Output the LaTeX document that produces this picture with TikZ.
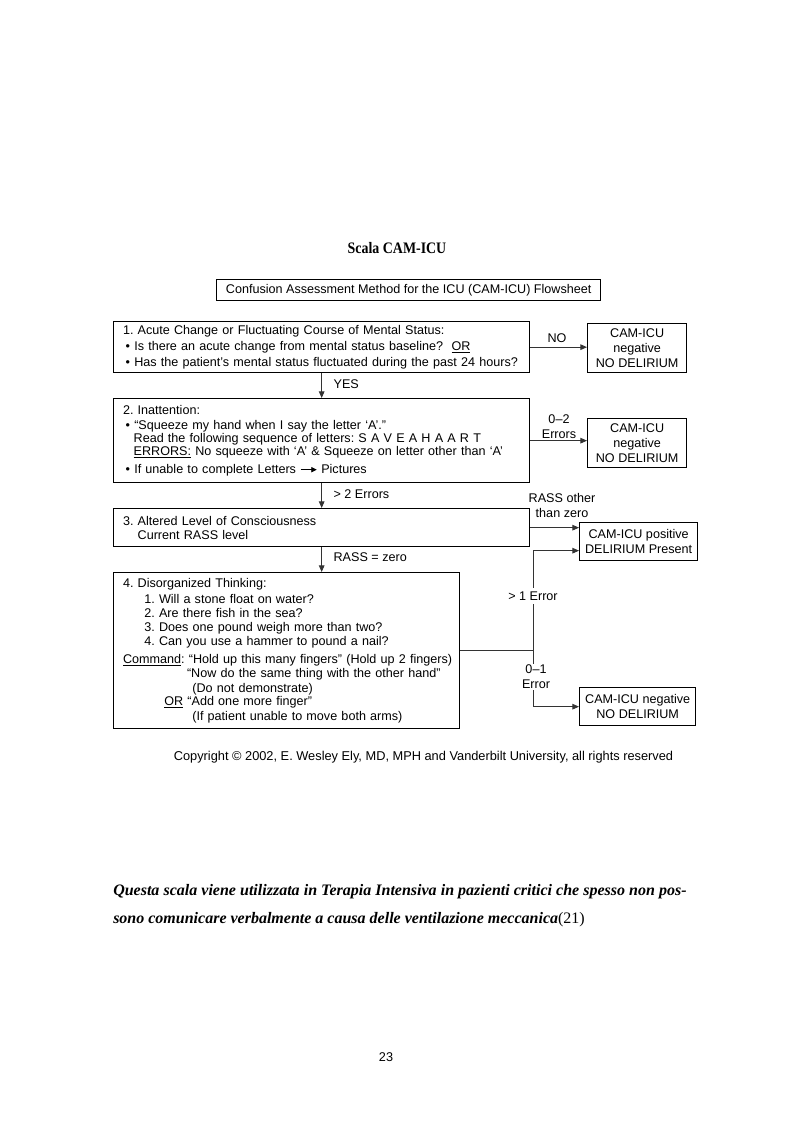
\documentclass[tikz,border=0pt]{standalone}
\usepackage{fontspec}
\usepackage{graphicx}
\setmainfont{Liberation Serif}
\newfontfamily\arialf{Liberation Sans}
\usetikzlibrary{arrows.meta}
\frenchspacing
\newcommand{\boxfont}{\arialf\fontsize{9.45}{10.5}\selectfont}
\newcommand{\resfont}{\arialf\fontsize{9.45}{11.25}\selectfont}
\newcommand{\smallarrow}{\tikz[baseline=-2.8pt]\draw[line width=0.6pt,-{Triangle[length=4pt,width=4pt]}] (0pt,0pt) -- (12pt,0pt);}
\begin{document}
\begin{tikzpicture}[x=0.75pt,y=-0.75pt,
  box/.style={draw, line width=1pt, rectangle, inner xsep=7pt, inner ysep=0pt, align=left, anchor=north west, font=\boxfont},
  res/.style={draw, line width=1pt, rectangle, align=center, anchor=north west, font=\resfont, inner sep=1pt},
  conn/.style={draw=black!80, line width=0.7pt},
  arr/.style={conn, -{Triangle[length=5pt,width=4.2pt]}},
  lbl/.style={font=\resfont, align=center, inner sep=1pt}]
\useasboundingbox[fill=white] (0,0) rectangle (793,1123);

\node (title) [font=\bfseries\fontsize{12}{14}\selectfont, anchor=base] at (397,253) {\scalebox{0.87}[1]{Scala CAM-ICU}};

\node (hdr) [draw, line width=1pt, anchor=north west, minimum width=288pt, minimum height=15.75pt, inner sep=0pt, font=\boxfont] at (216,279) {Confusion Assessment Method for the ICU (CAM-ICU) Flowsheet};

\node (b1) [box, text width=298pt, minimum height=38.25pt] at (113,321) {1. Acute Change or Fluctuating Course of Mental Status:\\[1.5pt]
\hspace*{2pt}\textbullet\ Is there an acute change from mental status baseline?\ \ \underline{OR}\\[1.5pt]
\hspace*{2pt}\textbullet\ Has the patient’s mental status fluctuated during the past 24 hours?};

\node (b2) [box, text width=298pt, minimum height=63pt] at (113,398) {2. Inattention:\\[0.75pt]
\hspace*{2pt}\textbullet\ “Squeeze my hand when I say the letter ‘A’.”\\[-0.75pt]
\hspace*{8pt}Read the following sequence of letters: S A V E A H A A R T\\[-0.75pt]
\hspace*{8pt}\underline{ERRORS:} No squeeze with ‘A’ \& Squeeze on letter other than ‘A’\\[3pt]
\hspace*{2pt}\textbullet\ If unable to complete Letters \smallarrow\ Pictures};

\node (b3) [box, text width=298pt, minimum height=28.5pt] at (113,508) {3. Altered Level of Consciousness\\
\hspace*{11pt}Current RASS level};

\node (b4) [box, text width=245.5pt, minimum height=117pt] at (113,572) {4. Disorganized Thinking:\\[1.5pt]
\hspace*{16pt}1. Will a stone float on water?\\
\hspace*{16pt}2. Are there fish in the sea?\\
\hspace*{16pt}3. Does one pound weigh more than two?\\
\hspace*{16pt}4. Can you use a hammer to pound a nail?\\[3pt]
\mbox{\underline{Command}: “Hold up this many fingers” (Hold up 2 fingers)}\\
\hspace*{48pt}“Now do the same thing with the other hand”\\[0.75pt]
\hspace*{52pt}(Do not demonstrate)\\[-0.75pt]
\hspace*{31pt}\underline{OR} “Add one more finger”\\[0.75pt]
\hspace*{52pt}(If patient unable to move both arms)};

\node (neg1) [res, minimum width=74.25pt, minimum height=36.75pt] at (587,323) {CAM-ICU\\negative\\NO DELIRIUM};
\node (neg2) [res, minimum width=74.25pt, minimum height=36.75pt] at (587,418) {CAM-ICU\\negative\\NO DELIRIUM};
\node (pos) [res, minimum width=88.5pt, minimum height=28.5pt] at (579,522) {CAM-ICU positive\\DELIRIUM Present};
\node (neg3) [res, minimum width=87pt, minimum height=28.5pt] at (579,687) {CAM-ICU negative\\NO DELIRIUM};

\draw[arr] (b1.east) -- (b1.east -| neg1.west);
\node (lno) [lbl] at (557,338) {NO};
\draw[arr] (b1.south) -- (b2.north);
\node (lyes) [lbl, anchor=west] at (332,384) {YES};
\draw[arr] (b2.east) -- (b2.east -| neg2.west);
\node (l02) [lbl] at (559,427) {0–2\\Errors};
\draw[arr] (b2.south) -- (b3.north);
\node (lgt2) [lbl, anchor=west] at (332,494) {> 2 Errors};
\draw[arr] (b3.east) -- (b3.east -| pos.west);
\node (lrass) [lbl] at (562,505) {RASS other\\than zero};
\draw[arr] (b3.south) -- (b3.south |- b4.north);
\node (lzero) [lbl, anchor=west] at (332,557) {RASS = zero};

\path (b4.east) ++(73,0) coordinate (j);
\path (j) ++(0,-100) coordinate (up);
\draw[conn] (b4.east) -- (j);
\draw[arr] (j) -- (up) -- (up -| pos.west);
\draw[arr] (j) |- (neg3.west);
\node (lgt1) [lbl, fill=white, inner ysep=3pt] at (533,596) {> 1 Error};
\node (l01) [lbl, fill=white] at (536,677) {0–1\\Error};

\node (copy) [font=\arialf\fontsize{9.6}{11}\selectfont] at (423.5,757) {Copyright © 2002, E. Wesley Ely, MD, MPH and Vanderbilt University, all rights reserved};

\node (para1) [anchor=base west, inner sep=0pt, font=\fontsize{12}{14}\selectfont] at (113,895) {\makebox[430pt][s]{\bfseries\itshape Questa scala viene utilizzata in Terapia Intensiva in pazienti critici che spesso non pos-}};
\node (para2) [anchor=base west, inner sep=0pt, font=\fontsize{12}{14}\selectfont] at (113,923) {{\bfseries\itshape sono comunicare verbalmente a causa delle ventilazione meccanica}(21)};

\node (pnum) [font=\arialf\fontsize{9.5}{11}\selectfont] at (386,1057) {23};
\end{tikzpicture}
\end{document}
